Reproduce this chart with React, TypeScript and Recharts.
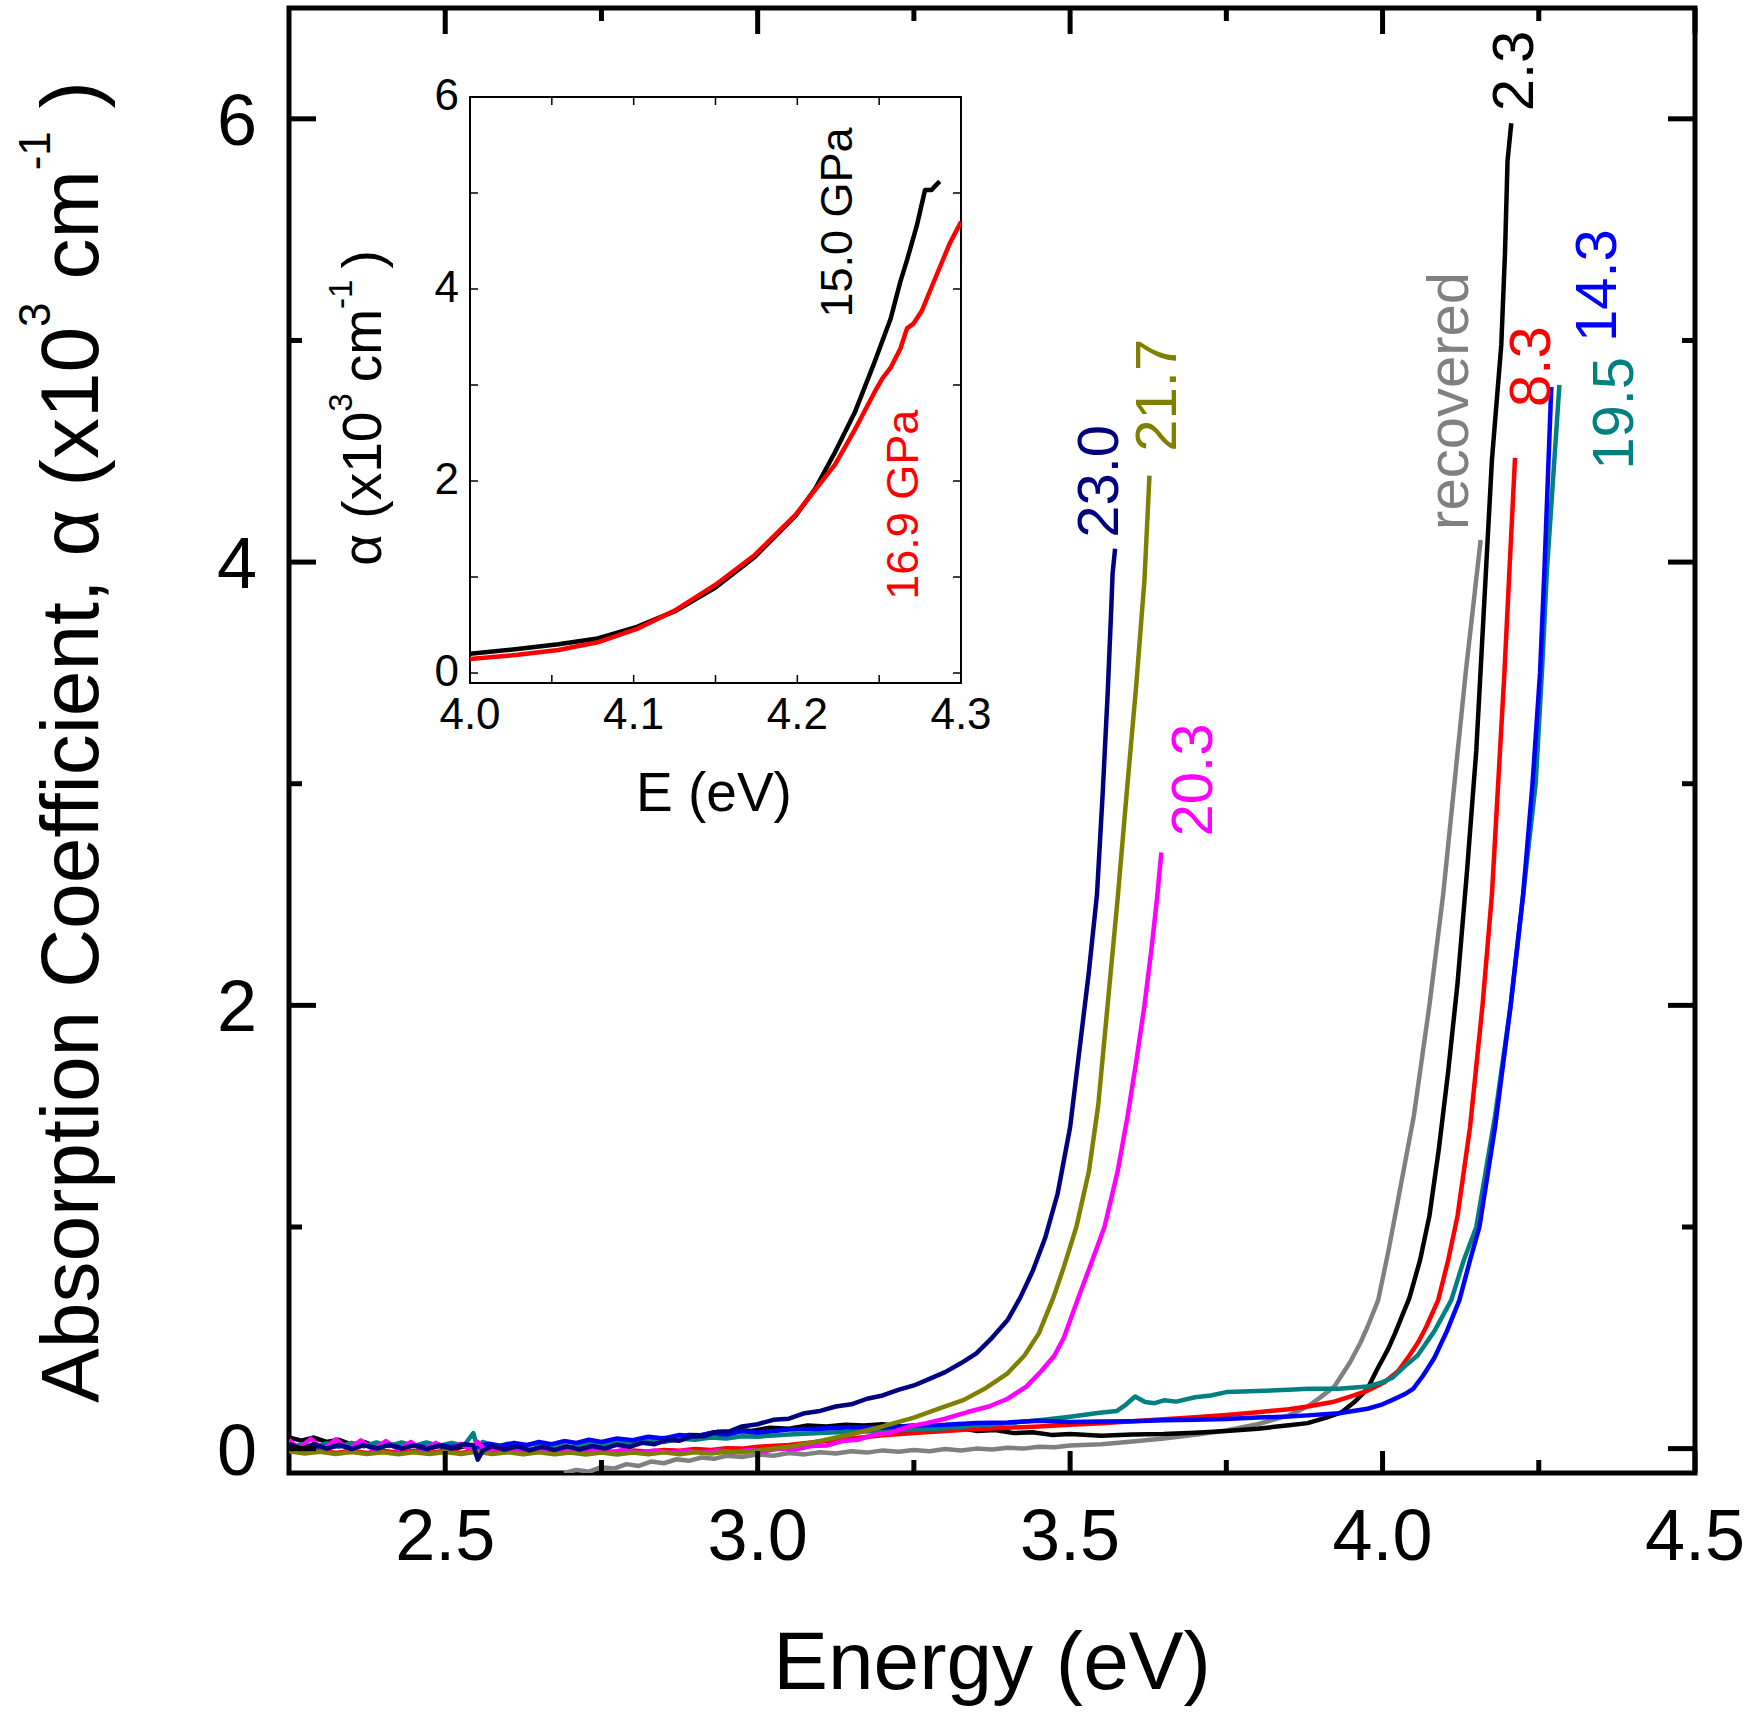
import React from 'react';
import { LineChart, Line, XAxis, YAxis, ReferenceArea, LabelList } from 'recharts';

const FONT = '"Liberation Sans", Arial, Helvetica, sans-serif';

type Pt = [number, number];

// absorption edge at each pressure: [energy (eV), alpha (x10^3 cm^-1)]
const pts2_3: Pt[] = [
  [2.25, 0.05], [2.27, 0.036], [2.29, 0.05], [2.31, 0.03], [2.33, 0.04], [2.35, 0.018], [2.37, 0.03], [2.39, 0.008],
  [2.41, 0.022], [2.43, 0.002], [2.45, 0.016], [2.47, -0.002], [2.49, 0.012], [2.51, -0.004], [2.53, 0.01], [2.55, -0.006],
  [2.57, 0.008], [2.59, -0.008], [2.61, 0.004], [2.63, -0.01], [2.65, 0.004], [2.67, -0.01], [2.69, 0.006], [2.71, -0.006],
  [2.73, 0.01], [2.75, 0.002], [2.77, 0.018], [2.79, 0.014], [2.81, 0.032], [2.83, 0.028], [2.85, 0.048], [2.87, 0.044],
  [2.89, 0.062], [2.91, 0.06], [2.93, 0.074], [2.95, 0.07], [2.97, 0.084], [2.99, 0.08], [3.02, 0.094], [3.05, 0.09],
  [3.08, 0.104], [3.11, 0.1], [3.14, 0.108], [3.17, 0.104], [3.2, 0.11], [3.23, 0.1], [3.26, 0.104], [3.29, 0.09],
  [3.32, 0.094], [3.35, 0.08], [3.38, 0.084], [3.41, 0.07], [3.44, 0.074], [3.47, 0.062], [3.5, 0.066], [3.55, 0.058],
  [3.6, 0.064], [3.65, 0.066], [3.7, 0.072], [3.75, 0.08], [3.8, 0.09], [3.85, 0.105], [3.88, 0.115], [3.91, 0.14],
  [3.935, 0.165], [3.955, 0.21], [3.976, 0.27], [3.99, 0.35], [4.009, 0.45], [4.02, 0.52], [4.03, 0.59], [4.043, 0.68],
  [4.06, 0.85], [4.075, 1.05], [4.09, 1.35], [4.105, 1.7], [4.12, 2.1], [4.135, 2.6], [4.15, 3.15], [4.163, 3.83],
  [4.175, 4.46], [4.19, 4.98], [4.196, 5.4], [4.2, 5.81], [4.206, 5.98],
];

const pts8_3: Pt[] = [
  [2.25, -0.008], [2.275, -0.018], [2.3, -0.008], [2.325, -0.02], [2.35, -0.01], [2.375, -0.02], [2.4, -0.01], [2.425, -0.02],
  [2.45, -0.01], [2.475, -0.02], [2.5, -0.01], [2.525, -0.02], [2.55, -0.01], [2.575, -0.02], [2.6, -0.01], [2.625, -0.02],
  [2.65, -0.012], [2.675, -0.02], [2.7, -0.012], [2.725, -0.018], [2.75, -0.01], [2.775, -0.016], [2.8, -0.008], [2.825, -0.014],
  [2.85, -0.006], [2.875, -0.01], [2.9, -0.002], [2.925, -0.006], [2.95, 0.002], [2.975, 0.0], [3.0, 0.008], [3.05, 0.016],
  [3.1, 0.032], [3.15, 0.046], [3.2, 0.06], [3.25, 0.07], [3.3, 0.08], [3.35, 0.088], [3.4, 0.094], [3.45, 0.1],
  [3.5, 0.108], [3.55, 0.114], [3.6, 0.124], [3.65, 0.132], [3.7, 0.142], [3.75, 0.152], [3.8, 0.164], [3.85, 0.178],
  [3.88, 0.19], [3.92, 0.21], [3.948, 0.235], [3.975, 0.26], [4.003, 0.3], [4.025, 0.35], [4.043, 0.42], [4.057, 0.48],
  [4.07, 0.55], [4.089, 0.67], [4.105, 0.85], [4.12, 1.05], [4.14, 1.45], [4.16, 2.0], [4.175, 2.5], [4.185, 3.0],
  [4.195, 3.5], [4.203, 3.96], [4.212, 4.47],
];

const pts14_3: Pt[] = [
  [2.25, 0.012], [2.27, 0.0], [2.29, 0.014], [2.31, 0.0], [2.33, 0.015], [2.35, 0.002], [2.37, 0.016], [2.39, 0.002],
  [2.41, 0.016], [2.43, 0.004], [2.45, 0.017], [2.47, 0.004], [2.49, 0.018], [2.51, 0.006], [2.53, 0.02], [2.55, 0.008],
  [2.57, 0.022], [2.59, 0.012], [2.61, 0.026], [2.63, 0.016], [2.65, 0.03], [2.67, 0.02], [2.69, 0.034], [2.71, 0.026],
  [2.73, 0.04], [2.75, 0.03], [2.775, 0.046], [2.8, 0.038], [2.825, 0.054], [2.85, 0.046], [2.875, 0.062], [2.9, 0.056],
  [2.925, 0.07], [2.95, 0.064], [2.975, 0.078], [3.0, 0.072], [3.05, 0.086], [3.1, 0.09], [3.15, 0.096], [3.2, 0.094],
  [3.25, 0.104], [3.3, 0.108], [3.35, 0.116], [3.4, 0.118], [3.45, 0.126], [3.5, 0.12], [3.55, 0.122], [3.6, 0.124],
  [3.65, 0.128], [3.7, 0.13], [3.75, 0.134], [3.8, 0.14], [3.85, 0.145], [3.88, 0.15], [3.93, 0.16], [3.976, 0.18],
  [4.0, 0.2], [4.016, 0.22], [4.035, 0.245], [4.049, 0.27], [4.065, 0.33], [4.083, 0.41], [4.103, 0.53], [4.123, 0.67],
  [4.14, 0.85], [4.155, 1.0], [4.18, 1.45], [4.205, 2.0], [4.225, 2.5], [4.24, 3.0], [4.252, 3.5], [4.259, 3.96],
  [4.27, 4.79],
];

const pts19_5: Pt[] = [
  [2.25, 0.0], [2.27, 0.02], [2.29, 0.004], [2.31, 0.024], [2.33, 0.008], [2.35, 0.026], [2.37, 0.01], [2.39, 0.028],
  [2.41, 0.012], [2.43, 0.028], [2.45, 0.012], [2.47, 0.028], [2.49, 0.012], [2.51, 0.026], [2.53, 0.014], [2.545, 0.07],
  [2.552, 0.0], [2.56, 0.03], [2.58, 0.008], [2.6, 0.022], [2.62, 0.006], [2.64, 0.02], [2.66, 0.006], [2.68, 0.02],
  [2.7, 0.008], [2.725, 0.022], [2.75, 0.014], [2.775, 0.028], [2.8, 0.022], [2.825, 0.036], [2.85, 0.03], [2.875, 0.044],
  [2.9, 0.04], [2.925, 0.05], [2.95, 0.046], [2.975, 0.056], [3.0, 0.054], [3.05, 0.064], [3.1, 0.07], [3.15, 0.076],
  [3.2, 0.08], [3.25, 0.086], [3.29, 0.09], [3.35, 0.104], [3.4, 0.115], [3.45, 0.128], [3.5, 0.144], [3.547, 0.162],
  [3.575, 0.17], [3.59, 0.2], [3.604, 0.235], [3.62, 0.21], [3.635, 0.205], [3.65, 0.218], [3.67, 0.212], [3.7, 0.232],
  [3.725, 0.24], [3.75, 0.255], [3.8, 0.26], [3.85, 0.266], [3.881, 0.27], [3.93, 0.27], [3.976, 0.28], [4.0, 0.3],
  [4.016, 0.32], [4.035, 0.37], [4.056, 0.42], [4.083, 0.53], [4.11, 0.67], [4.13, 0.85], [4.15, 1.0], [4.18, 1.5],
  [4.205, 2.0], [4.225, 2.5], [4.245, 3.0], [4.255, 3.5], [4.263, 3.96], [4.283, 4.8],
];

const pts20_3: Pt[] = [
  [2.25, 0.04], [2.265, 0.0], [2.285, 0.045], [2.305, -0.004], [2.325, 0.042], [2.345, -0.004], [2.365, 0.038], [2.385, -0.006],
  [2.405, 0.034], [2.425, -0.006], [2.445, 0.03], [2.465, -0.008], [2.485, 0.026], [2.505, -0.008], [2.525, 0.022], [2.54, -0.004],
  [2.552, 0.03], [2.565, -0.012], [2.585, 0.004], [2.61, -0.014], [2.635, -0.002], [2.66, -0.016], [2.685, -0.004], [2.71, -0.016],
  [2.735, -0.006], [2.76, -0.018], [2.785, -0.006], [2.81, -0.018], [2.835, -0.008], [2.86, -0.018], [2.885, -0.008], [2.91, -0.018],
  [2.935, -0.008], [2.96, -0.016], [2.985, -0.006], [3.01, -0.012], [3.035, 0.0], [3.06, -0.004], [3.085, 0.012], [3.11, 0.014],
  [3.135, 0.034], [3.16, 0.04], [3.185, 0.062], [3.21, 0.07], [3.243, 0.1], [3.27, 0.115], [3.3, 0.135], [3.336, 0.165],
  [3.37, 0.19], [3.4, 0.225], [3.43, 0.28], [3.454, 0.35], [3.475, 0.42], [3.49, 0.5], [3.513, 0.68], [3.533, 0.83],
  [3.555, 1.0], [3.576, 1.25], [3.592, 1.5], [3.606, 1.75], [3.619, 2.0], [3.63, 2.25], [3.639, 2.48], [3.646, 2.69],
];

const pts21_7: Pt[] = [
  [2.25, -0.012], [2.275, -0.022], [2.3, -0.014], [2.325, -0.024], [2.35, -0.015], [2.375, -0.024], [2.4, -0.016], [2.425, -0.025],
  [2.45, -0.016], [2.475, -0.024], [2.5, -0.015], [2.525, -0.024], [2.55, -0.014], [2.575, -0.024], [2.6, -0.016], [2.625, -0.026],
  [2.65, -0.017], [2.675, -0.026], [2.7, -0.018], [2.725, -0.027], [2.75, -0.018], [2.775, -0.027], [2.8, -0.018], [2.825, -0.026],
  [2.85, -0.017], [2.875, -0.025], [2.9, -0.016], [2.925, -0.022], [2.95, -0.014], [2.975, -0.016], [3.0, -0.008], [3.05, 0.008],
  [3.1, 0.035], [3.15, 0.065], [3.2, 0.1], [3.25, 0.14], [3.29, 0.18], [3.33, 0.22], [3.363, 0.27], [3.4, 0.34],
  [3.427, 0.42], [3.45, 0.52], [3.473, 0.68], [3.49, 0.82], [3.51, 1.0], [3.53, 1.25], [3.545, 1.55], [3.56, 2.0],
  [3.576, 2.48], [3.59, 2.94], [3.606, 3.45], [3.619, 3.92], [3.627, 4.39],
];

const pts23_0: Pt[] = [
  [2.25, 0.02], [2.27, 0.0], [2.29, 0.02], [2.31, 0.0], [2.33, 0.018], [2.35, -0.002], [2.37, 0.016], [2.39, 0.0],
  [2.41, 0.018], [2.43, 0.0], [2.45, 0.015], [2.47, -0.002], [2.49, 0.014], [2.51, 0.0], [2.53, 0.02], [2.545, 0.015],
  [2.552, -0.05], [2.56, -0.01], [2.575, 0.012], [2.595, -0.004], [2.615, 0.01], [2.635, -0.008], [2.655, 0.008], [2.675, -0.006],
  [2.695, 0.01], [2.715, -0.004], [2.735, 0.012], [2.755, 0.0], [2.775, 0.018], [2.795, 0.008], [2.815, 0.026], [2.835, 0.02],
  [2.855, 0.04], [2.875, 0.036], [2.895, 0.056], [2.915, 0.056], [2.935, 0.076], [2.955, 0.078], [2.975, 0.1], [3.0, 0.11],
  [3.025, 0.13], [3.05, 0.135], [3.075, 0.16], [3.1, 0.17], [3.125, 0.19], [3.15, 0.2], [3.175, 0.225], [3.2, 0.24],
  [3.225, 0.265], [3.25, 0.285], [3.275, 0.315], [3.3, 0.345], [3.325, 0.385], [3.35, 0.43], [3.375, 0.5], [3.4, 0.58],
  [3.42, 0.68], [3.44, 0.8], [3.46, 0.95], [3.48, 1.15], [3.5, 1.45], [3.515, 1.8], [3.53, 2.15], [3.543, 2.5],
  [3.552, 2.95], [3.56, 3.4], [3.566, 3.8], [3.568, 3.95], [3.572, 4.06],
];

const ptsRecovered: Pt[] = [
  [2.69, -0.11], [2.71, -0.096], [2.73, -0.104], [2.75, -0.084], [2.77, -0.09], [2.79, -0.07], [2.81, -0.078], [2.83, -0.058],
  [2.85, -0.066], [2.87, -0.048], [2.89, -0.055], [2.91, -0.04], [2.93, -0.046], [2.95, -0.032], [2.975, -0.038], [3.0, -0.026],
  [3.025, -0.032], [3.05, -0.02], [3.075, -0.026], [3.1, -0.016], [3.125, -0.022], [3.15, -0.012], [3.175, -0.018], [3.2, -0.008],
  [3.225, -0.014], [3.25, -0.006], [3.275, -0.012], [3.3, -0.002], [3.325, -0.008], [3.35, 0.0], [3.375, -0.004], [3.4, 0.004],
  [3.425, 0.0], [3.45, 0.008], [3.475, 0.006], [3.5, 0.014], [3.55, 0.02], [3.6, 0.032], [3.65, 0.046], [3.7, 0.062],
  [3.75, 0.082], [3.8, 0.11], [3.85, 0.15], [3.88, 0.19], [3.9, 0.23], [3.923, 0.28], [3.948, 0.39], [3.965, 0.48],
  [3.976, 0.55], [3.993, 0.67], [4.01, 0.9], [4.03, 1.2], [4.05, 1.5], [4.075, 2.0], [4.097, 2.5], [4.115, 3.0],
  [4.133, 3.5], [4.145, 3.8], [4.157, 4.1],
];

// inset: edge region at 15.0 and 16.9 GPa
const pts15_0: Pt[] = [
  [4.0, 0.2], [4.029, 0.25], [4.054, 0.3], [4.078, 0.36], [4.102, 0.48], [4.126, 0.65], [4.15, 0.89], [4.174, 1.21],
  [4.199, 1.64], [4.211, 1.92], [4.223, 2.3], [4.235, 2.71], [4.247, 3.23], [4.257, 3.69], [4.263, 4.08], [4.267, 4.3],
  [4.273, 4.66], [4.278, 5.03], [4.282, 5.03], [4.284, 5.07], [4.287, 5.12],
];

const pts16_9: Pt[] = [
  [4.0, 0.145], [4.029, 0.19], [4.054, 0.24], [4.078, 0.32], [4.102, 0.46], [4.126, 0.66], [4.15, 0.92], [4.174, 1.23],
  [4.199, 1.65], [4.211, 1.91], [4.223, 2.17], [4.235, 2.53], [4.247, 2.92], [4.252, 3.07], [4.257, 3.18], [4.263, 3.38],
  [4.267, 3.59], [4.271, 3.64], [4.276, 3.77], [4.283, 4.06], [4.293, 4.47], [4.3, 4.7],
];

const mainXTicks = [2.5, 2.75, 3.0, 3.25, 3.5, 3.75, 4.0, 4.25, 4.5];
const mainYTicks = [0, 1, 2, 3, 4, 5, 6];
const insetXTicks = [4.0, 4.05, 4.1, 4.15, 4.2, 4.25, 4.3];
const insetYTicks = [0, 1, 2, 3, 4, 5, 6];

// plot boxes in page pixels
const MAIN = { left: 289, top: 8, width: 1406, height: 1465, w: 1757, h: 1715 };
const INSET = { left: 470, top: 97, width: 491, height: 586, w: 1000, h: 850 };

const mainSeries = [
  { name: 'recovered', color: '#808080', pts: ptsRecovered, dx: -13, dy: -10 },
  { name: '2.3', color: '#000000', pts: pts2_3, dx: 22, dy: -12 },
  { name: '8.3', color: '#ff0000', pts: pts8_3, dx: 35, dy: -51 },
  { name: '19.5', color: '#008080', pts: pts19_5, dx: 74, dy: 85 },
  { name: '14.3', color: '#0000ff', pts: pts14_3, dx: 65, dy: -45 },
  { name: '20.3', color: '#ff00ff', pts: pts20_3, dx: 51, dy: -16 },
  { name: '21.7', color: '#808000', pts: pts21_7, dx: 27, dy: -24 },
  { name: '23.0', color: '#000080', pts: pts23_0, dx: 3, dy: -11 },
];

const insetSeries = [
  { name: '15.0 GPa', color: '#000000', pts: pts15_0, dx: -88, dy: 136 },
  { name: '16.9 GPa', color: '#ff0000', pts: pts16_9, dx: -43, dy: 378 },
];

const toRows = (pts: Pt[]) => pts.map(([e, a]) => ({ e, a }));

// vertical text placed off the last point of a curve
const endLabel = (text: string, color: string, n: number, dx: number, dy: number, size: number) =>
  (props: any) => {
    if (props.index !== n - 1) return null;
    const vb = props.viewBox || {};
    const x = Number(vb.x ?? props.x) + dx;
    const y = Number(vb.y ?? props.y) + dy;
    return (
      <text x={x} y={y} transform={`rotate(-90 ${x} ${y})`} fill={color} fontSize={size} fontFamily={FONT}>
        {text}
      </text>
    );
  };

const isMult = (v: number, step: number) => Math.abs(v / step - Math.round(v / step)) < 1e-6;

const MainXTick = (props: any) => {
  const { x, y, payload } = props;
  const v = payload.value as number;
  const major = isMult(v, 0.5);
  return (
    <g>
      <line x1={x} x2={x} y1={y} y2={y - (major ? 22 : 13)} stroke="#000" strokeWidth={5} />
      <line x1={x} x2={x} y1={y - MAIN.height} y2={y - MAIN.height + (major ? 26 : 13)} stroke="#000" strokeWidth={5} />
      {major && (
        <text x={x} y={y + 87} textAnchor="middle" fontSize={72} fontFamily={FONT} fill="#000">
          {v.toFixed(1)}
        </text>
      )}
    </g>
  );
};

const MainYTick = (props: any) => {
  const { x, y, payload } = props;
  const v = payload.value as number;
  const major = isMult(v, 2);
  return (
    <g>
      <line x1={x} x2={x + (major ? 27 : 13)} y1={y} y2={y} stroke="#000" strokeWidth={5} />
      <line x1={x + MAIN.width} x2={x + MAIN.width - (major ? 27 : 13)} y1={y} y2={y} stroke="#000" strokeWidth={5} />
      {major && (
        <text x={x - 32} y={y + 26} textAnchor="end" fontSize={72} fontFamily={FONT} fill="#000">
          {v}
        </text>
      )}
    </g>
  );
};

const InsetXTick = (props: any) => {
  const { x, y, payload } = props;
  const v = payload.value as number;
  const major = isMult(v, 0.1);
  return (
    <g>
      <line x1={x} x2={x} y1={y} y2={y - 8} stroke="#000" strokeWidth={1.5} />
      <line x1={x} x2={x} y1={y - INSET.height} y2={y - INSET.height + 8} stroke="#000" strokeWidth={1.5} />
      {major && (
        <text x={x} y={y + 46} textAnchor="middle" fontSize={44} fontFamily={FONT} fill="#000">
          {v.toFixed(1)}
        </text>
      )}
    </g>
  );
};

const InsetYTick = (props: any) => {
  const { x, y, payload } = props;
  const v = payload.value as number;
  const major = isMult(v, 2);
  return (
    <g>
      <line x1={x} x2={x + 8} y1={y} y2={y} stroke="#000" strokeWidth={1.5} />
      <line x1={x + INSET.width} x2={x + INSET.width - 8} y1={y} y2={y} stroke="#000" strokeWidth={1.5} />
      {major && (
        <text x={x - 11} y={y + 13} textAnchor="end" fontSize={44} fontFamily={FONT} fill="#000">
          {v}
        </text>
      )}
    </g>
  );
};

function MainChart() {
  const margin = {
    top: MAIN.top,
    left: MAIN.left - 60,
    right: MAIN.w - MAIN.left - MAIN.width,
    bottom: MAIN.h - MAIN.top - MAIN.height - 30,
  };
  return (
    <LineChart width={MAIN.w} height={MAIN.h} margin={margin} style={{ fontFamily: FONT }}>
      <XAxis
        type="number"
        dataKey="e"
        domain={[2.25, 4.5]}
        allowDataOverflow
        ticks={mainXTicks}
        interval={0}
        tickSize={0}
        tickMargin={0}
        tickLine={false}
        axisLine={false}
        tick={<MainXTick />}
        height={30}
      />
      <YAxis
        type="number"
        domain={[-0.11, 6.5]}
        allowDataOverflow
        ticks={mainYTicks}
        interval={0}
        tickSize={0}
        tickMargin={0}
        tickLine={false}
        axisLine={false}
        tick={<MainYTick />}
        width={60}
      />
      {mainSeries.map((s) => (
        <Line
          key={s.name}
          data={toRows(s.pts)}
          dataKey="a"
          type="linear"
          stroke={s.color}
          strokeWidth={4.5}
          strokeLinejoin="round"
          dot={false}
          activeDot={false}
          isAnimationActive={false}
        >
          <LabelList dataKey="a" content={endLabel(s.name, s.color, s.pts.length, s.dx, s.dy, 58)} />
        </Line>
      ))}
      <ReferenceArea x1={2.25} x2={4.5} y1={-0.11} y2={6.5} fill="none" stroke="#000" strokeWidth={5} />
    </LineChart>
  );
}

function InsetChart() {
  const margin = {
    top: INSET.top,
    left: INSET.left - 60,
    right: INSET.w - INSET.left - INSET.width,
    bottom: INSET.h - INSET.top - INSET.height - 30,
  };
  return (
    <LineChart width={INSET.w} height={INSET.h} margin={margin} style={{ fontFamily: FONT }}>
      <XAxis
        type="number"
        dataKey="e"
        domain={[4.0, 4.3]}
        allowDataOverflow
        ticks={insetXTicks}
        interval={0}
        tickSize={0}
        tickMargin={0}
        tickLine={false}
        axisLine={false}
        tick={<InsetXTick />}
        height={30}
      />
      <YAxis
        type="number"
        domain={[-0.104, 6]}
        allowDataOverflow
        ticks={insetYTicks}
        interval={0}
        tickSize={0}
        tickMargin={0}
        tickLine={false}
        axisLine={false}
        tick={<InsetYTick />}
        width={60}
      />
      {insetSeries.map((s) => (
        <Line
          key={s.name}
          data={toRows(s.pts)}
          dataKey="a"
          type="linear"
          stroke={s.color}
          strokeWidth={4.5}
          strokeLinejoin="round"
          dot={false}
          activeDot={false}
          isAnimationActive={false}
        >
          <LabelList dataKey="a" content={endLabel(s.name, s.color, s.pts.length, s.dx, s.dy, 45)} />
        </Line>
      ))}
      <ReferenceArea x1={4.0} x2={4.3} y1={-0.104} y2={6} fill="none" stroke="#000" strokeWidth={2} />
    </LineChart>
  );
}

// axis titles, with superscripts
function Titles() {
  return (
    <svg width={MAIN.w} height={MAIN.h} style={{ position: 'absolute', left: 0, top: 0, pointerEvents: 'none' }}>
      <g fontFamily={FONT} fill="#000">
        <text x={992} y={1689} textAnchor="middle" fontSize={82}>Energy (eV)</text>
        <text x={98} y={742} textAnchor="middle" fontSize={82} transform="rotate(-90 98 742)">
          Absorption Coefficient, α (x10
          <tspan fontSize={44} dy={-48}>3</tspan>
          <tspan dy={48}> cm</tspan>
          <tspan fontSize={44} dy={-48}>-1</tspan>
          <tspan dy={48}> )</tspan>
        </text>
        <text x={714} y={811} textAnchor="middle" fontSize={55}>E (eV)</text>
        <text x={381} y={408} textAnchor="middle" fontSize={55} transform="rotate(-90 381 408)">
          α (x10
          <tspan fontSize={33} dy={-29}>3</tspan>
          <tspan dy={29}>{'\u2009'}cm</tspan>
          <tspan fontSize={33} dy={-29}>-1</tspan>
          <tspan dy={29}>{'\u2009'})</tspan>
        </text>
      </g>
    </svg>
  );
}

export default function App() {
  return (
    <div style={{ position: 'absolute', left: 0, top: 0, width: MAIN.w, height: MAIN.h, background: '#fff' }}>
      <div style={{ position: 'absolute', left: 0, top: 0 }}>
        <MainChart />
      </div>
      <div style={{ position: 'absolute', left: 0, top: 0 }}>
        <InsetChart />
      </div>
      <Titles />
    </div>
  );
}
